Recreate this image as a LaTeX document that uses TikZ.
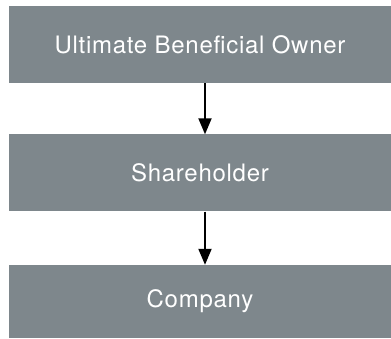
\documentclass[tikz,border=0pt]{standalone}
\usepackage{xcolor}
\usepackage{fontspec}
\setmainfont{TeX Gyre Heros}[LetterSpace=3]
\usepackage{tikz}
\usetikzlibrary{arrows.meta}
\definecolor{boxgrey}{HTML}{7E878C}
\tikzset{
    ownerbox/.style={rectangle, fill=boxgrey, text=white, minimum width=382pt, minimum height=77pt, inner sep=0pt, font=\fontsize{24}{28}\selectfont},
    ownarrow/.style={line width=2pt, -{Triangle[length=16pt, width=13pt]}}
}

\begin{document}
\begin{tikzpicture}[x=1pt, y=-1pt]
\useasboundingbox (0,0) rectangle (391,339);

\node[ownerbox] (ubo) at (200,44.5) {Ultimate Beneficial Owner};
\node[ownerbox] (holder) at (200,173) {Shareholder};
\node[ownerbox, minimum height=73pt] (company) at (200,301.5) {Company};

\foreach \a/\b in {ubo/holder, holder/company}
{
    \draw[ownarrow] ([xshift=5pt]\a.south) -- ([xshift=5pt]\b.north);
};
\end{tikzpicture}
\end{document}
